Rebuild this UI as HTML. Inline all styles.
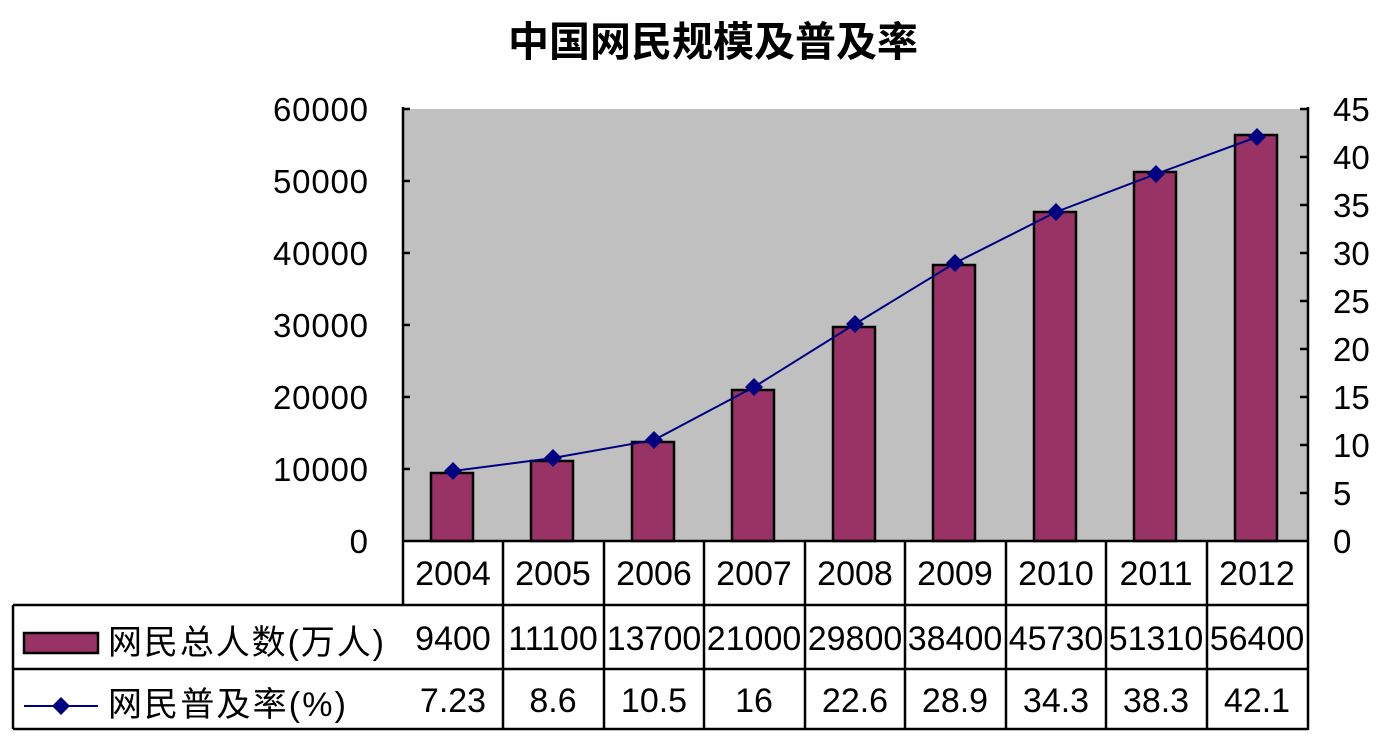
<!DOCTYPE html>
<html><head><meta charset="utf-8"><style>body{margin:0;background:#fff}</style></head>
<body>
<svg width="1388" height="745" xmlns="http://www.w3.org/2000/svg" font-family="Liberation Sans, Noto Sans CJK SC, sans-serif">
<rect width="1388" height="745" fill="#fff"/>
<text x="713" y="56" font-size="41" font-weight="bold" text-anchor="middle" font-family="Noto Sans CJK SC, sans-serif">中国网民规模及普及率</text>
<rect x="403" y="109" width="905" height="432" fill="#c0c0c0"/>
<g stroke="#000" stroke-width="2.5" fill="none">
<line x1="403" y1="107" x2="403" y2="605"/>
<line x1="1308" y1="107" x2="1308" y2="730"/>
<line x1="403" y1="109" x2="410" y2="109"/>
<line x1="403" y1="181" x2="410" y2="181"/>
<line x1="403" y1="253" x2="410" y2="253"/>
<line x1="403" y1="325" x2="410" y2="325"/>
<line x1="403" y1="397" x2="410" y2="397"/>
<line x1="403" y1="469" x2="410" y2="469"/>
<line x1="1300" y1="109" x2="1308" y2="109"/>
<line x1="1300" y1="157" x2="1308" y2="157"/>
<line x1="1300" y1="205" x2="1308" y2="205"/>
<line x1="1300" y1="253" x2="1308" y2="253"/>
<line x1="1300" y1="301" x2="1308" y2="301"/>
<line x1="1300" y1="349" x2="1308" y2="349"/>
<line x1="1300" y1="397" x2="1308" y2="397"/>
<line x1="1300" y1="445" x2="1308" y2="445"/>
<line x1="1300" y1="493" x2="1308" y2="493"/>
</g>
<g font-size="33" text-anchor="end" fill="#000">
<text x="368" y="121" textLength="95">60000</text>
<text x="368" y="193" textLength="95">50000</text>
<text x="368" y="265" textLength="95">40000</text>
<text x="368" y="337" textLength="95">30000</text>
<text x="368" y="409" textLength="95">20000</text>
<text x="368" y="481" textLength="95">10000</text>
<text x="368" y="553">0</text>
</g>
<g font-size="33" fill="#000">
<text x="1333" y="121">45</text><text x="1333" y="169">40</text><text x="1333" y="217">35</text>
<text x="1333" y="265">30</text><text x="1333" y="313">25</text><text x="1333" y="361">20</text>
<text x="1333" y="409">15</text><text x="1333" y="457">10</text><text x="1333" y="505">5</text>
<text x="1333" y="553">0</text>
</g>
<g fill="#993366" stroke="#000" stroke-width="2.5">
<rect x="431" y="473" width="42" height="68"/>
<rect x="531" y="461" width="42" height="80"/>
<rect x="632" y="442" width="42" height="99"/>
<rect x="732" y="390" width="42" height="151"/>
<rect x="833" y="327" width="42" height="214"/>
<rect x="933" y="265" width="42" height="276"/>
<rect x="1034" y="212" width="42" height="329"/>
<rect x="1134" y="172" width="42" height="369"/>
<rect x="1235" y="135" width="42" height="406"/>
</g>
<polyline fill="none" stroke="#000080" stroke-width="2" points="453,471 553,458 654,440 754,387 855,324 955,263 1056,212 1156,174 1257,137"/>
<g fill="#000080">
<path d="M453,462l9,9-9,9-9-9z"/><path d="M553,449l9,9-9,9-9-9z"/><path d="M654,431l9,9-9,9-9-9z"/>
<path d="M754,378l9,9-9,9-9-9z"/><path d="M855,315l9,9-9,9-9-9z"/><path d="M955,254l9,9-9,9-9-9z"/>
<path d="M1056,203l9,9-9,9-9-9z"/><path d="M1156,165l9,9-9,9-9-9z"/><path d="M1257,128l9,9-9,9-9-9z"/>
</g>
<g stroke="#000" stroke-width="2.5">
<line x1="403" y1="541" x2="1308" y2="541"/>
<line x1="13" y1="605" x2="1308" y2="605"/>
<line x1="13" y1="669" x2="1308" y2="669"/>
<line x1="13" y1="729" x2="1308" y2="729"/>
<line x1="13" y1="605" x2="13" y2="729"/>
<line x1="503" y1="541" x2="503" y2="729"/><line x1="604" y1="541" x2="604" y2="729"/>
<line x1="704" y1="541" x2="704" y2="729"/><line x1="805" y1="541" x2="805" y2="729"/>
<line x1="905" y1="541" x2="905" y2="729"/><line x1="1006" y1="541" x2="1006" y2="729"/>
<line x1="1106" y1="541" x2="1106" y2="729"/><line x1="1207" y1="541" x2="1207" y2="729"/>
</g>
<g font-size="34" text-anchor="middle" fill="#000">
<text x="453" y="585">2004</text><text x="553" y="585">2005</text><text x="654" y="585">2006</text>
<text x="754" y="585">2007</text><text x="855" y="585">2008</text><text x="955" y="585">2009</text>
<text x="1056" y="585">2010</text><text x="1156" y="585">2011</text><text x="1257" y="585">2012</text>
<text x="453" y="650">9400</text><text x="553" y="650">11100</text><text x="654" y="650">13700</text>
<text x="754" y="650">21000</text><text x="855" y="650">29800</text><text x="955" y="650">38400</text>
<text x="1056" y="650">45730</text><text x="1156" y="650">51310</text><text x="1257" y="650">56400</text>
<text x="453" y="712">7.23</text><text x="553" y="712">8.6</text><text x="654" y="712">10.5</text>
<text x="754" y="712">16</text><text x="855" y="712">22.6</text><text x="955" y="712">28.9</text>
<text x="1056" y="712">34.3</text><text x="1156" y="712">38.3</text><text x="1257" y="712">42.1</text>
</g>
<rect x="24" y="633" width="74" height="20" fill="#993366" stroke="#000" stroke-width="2.5"/>
<line x1="24" y1="706" x2="98" y2="706" stroke="#000080" stroke-width="2"/>
<path d="M61,697l9,9-9,9-9-9z" fill="#000080"/>
<g font-size="34" fill="#000" font-family="Liberation Sans, Noto Sans CJK SC, sans-serif">
<text x="108" y="654" textLength="276">网民总人数(万人)</text>
<text x="108" y="716" textLength="238">网民普及率(%)</text>
</g>
</svg>
</body></html>
